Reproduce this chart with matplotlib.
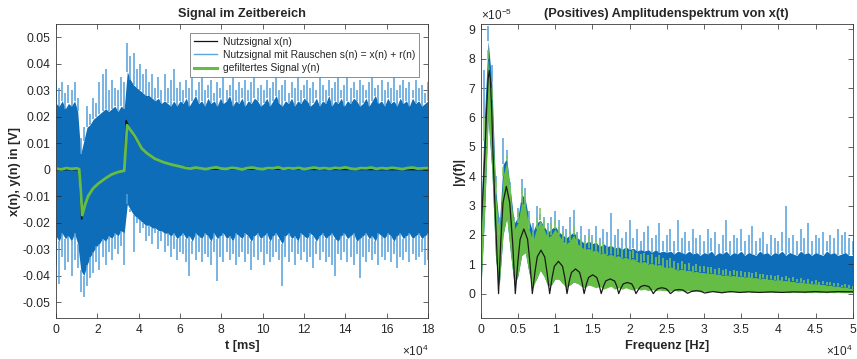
import numpy as np
import matplotlib
matplotlib.use("Agg")
import matplotlib.pyplot as plt
from matplotlib.lines import Line2D

plt.rcParams['font.family'] = ['Liberation Sans', 'DejaVu Sans']
plt.rcParams['mathtext.fontset'] = 'custom'
plt.rcParams['mathtext.rm'] = 'Liberation Sans'
plt.rcParams['mathtext.default'] = 'regular'

# ---- time domain (t in units of 1e4 ms) ----
t_noise = np.linspace(0, 18, 121)

# dense part of the noisy signal s(n)
noise_core_up = [
    .025, .024, .026, .023, .025, .024, .026, .022, .006, .011,
    .016, .017, .019, .020, .021, .022, .023, .022, .023, .024,
    .022, .024, .023, .037, .034, .032, .031, .030, .029, .028,
    .028, .027, .026, .027, .025, .026, .025, .024, .026, .024,
    .026, .025, .027, .024, .026, .028, .025, .026, .024, .027,
    .025, .026, .024, .027, .025, .026, .028, .024, .026, .025,
    .027, .024, .026, .025, .027, .026, .024, .025, .027, .024,
    .026, .028, .025, .024, .026, .025, .027, .024, .026, .025,
    .027, .026, .024, .025, .027, .024, .026, .025, .028, .024,
    .026, .025, .027, .024, .026, .025, .027, .026, .024, .025,
    .027, .024, .026, .028, .025, .026, .024, .027, .025, .026,
    .024, .027, .025, .026, .024, .027, .025, .026, .024, .025,
    .026]
noise_core_lo = [
    -.025, -.027, -.024, -.026, -.025, -.027, -.024, -.028, -.038, -.040,
    -.036, -.033, -.031, -.029, -.028, -.026, -.027, -.025, -.026, -.024,
    -.025, -.023, -.024, -.013, -.015, -.017, -.018, -.019, -.020, -.021,
    -.021, -.022, -.022, -.023, -.023, -.024, -.024, -.025, -.024, -.026,
    -.025, -.024, -.026, -.025, -.027, -.024, -.025, -.026, -.024, -.025,
    -.027, -.024, -.026, -.025, -.024, -.026, -.025, -.027, -.024, -.025,
    -.026, -.024, -.025, -.027, -.025, -.024, -.026, -.025, -.024, -.027,
    -.025, -.024, -.026, -.028, -.025, -.024, -.026, -.025, -.027, -.024,
    -.025, -.026, -.024, -.025, -.027, -.025, -.024, -.026, -.025, -.024,
    -.026, -.027, -.025, -.024, -.026, -.025, -.024, -.027, -.026, -.025,
    -.024, -.026, -.025, -.027, -.024, -.025, -.026, -.024, -.025, -.027,
    -.025, -.024, -.026, -.025, -.024, -.026, -.025, -.024, -.026, -.025,
    -.024]
# outlying peaks of s(n)
noise_peak_up = [
    .034, .031, .033, .029, .032, .030, .033, .027, .012, .016,
    .024, .021, .027, .025, .033, .036, .038, .030, .034, .031,
    .030, .035, .033, .048, .043, .044, .038, .040, .036, .038,
    .033, .036, .031, .035, .030, .036, .031, .034, .038, .031,
    .033, .030, .034, .031, .035, .030, .033, .036, .030, .032,
    .034, .029, .033, .031, .035, .030, .032, .036, .030, .033,
    .031, .034, .030, .033, .036, .031, .032, .030, .034, .031,
    .033, .035, .030, .032, .034, .029, .033, .031, .035, .030,
    .032, .034, .031, .033, .030, .035, .032, .030, .034, .031,
    .033, .036, .030, .032, .035, .031, .033, .030, .034, .032,
    .030, .033, .035, .031, .032, .034, .030, .033, .031, .035,
    .030, .032, .034, .031, .033, .030, .034, .031, .032, .029,
    .033]
noise_peak_lo = [
    -.036, -.043, -.033, -.038, -.035, -.040, -.034, -.037, -.046, -.048,
    -.044, -.041, -.039, -.035, -.038, -.033, -.036, -.031, -.034, -.030,
    -.032, -.029, -.036, -.009, -.016, -.031, -.020, -.024, -.022, -.027,
    -.025, -.028, -.024, -.030, -.027, -.031, -.029, -.033, -.030, -.034,
    -.031, -.032, -.035, -.040, -.032, -.034, -.031, -.035, -.032, -.033,
    -.036, -.031, -.042, -.033, -.035, -.031, -.034, -.032, -.036, -.033,
    -.031, -.035, -.032, -.038, -.033, -.034, -.031, -.036, -.032, -.035,
    -.033, -.031, -.034, -.044, -.033, -.035, -.031, -.036, -.032, -.034,
    -.031, -.035, -.033, -.037, -.032, -.034, -.031, -.035, -.033, -.036,
    -.040, -.032, -.034, -.031, -.035, -.033, -.036, -.032, -.041, -.033,
    -.035, -.031, -.034, -.032, -.036, -.033, -.034, -.031, -.035, -.032,
    -.037, -.033, -.034, -.031, -.035, -.032, -.034, -.033, -.031, -.036,
    -.034]

# useful signal x(n)
t_clean = [0, 1.11, 1.24, 1.4, 1.56, 1.8, 2.05, 2.4, 2.69, 3.0, 3.3, 3.39,
           3.55, 3.7, 3.9, 4.15, 4.4, 4.79, 5.2, 5.6, 6.1, 6.8, 7.5, 18]
x_clean = [0, 0, -.0187, -.0135, -.0100, -.0068, -.0050, -.0030, -.0018,
           -.0009, -.0004, .0186, .0158, .0134, .0108, .0078, .0060, .0040,
           .0027, .0018, .0011, .0005, .0002, 0]

# filtered signal y(n)
t_filt = [0, 0.25, 0.5, 0.75, 1.0, 1.12, 1.18, 1.27, 1.4, 1.56, 1.8, 2.05,
          2.4, 2.69, 3.0, 3.3, 3.36, 3.44, 3.6, 3.8, 4.15, 4.4, 4.79, 5.2,
          5.6] + list(np.arange(6.0, 18.01, 0.25))
y_filt = [.0004, .0001, .0006, .0003, .0005, .0002, -.006, -.0172, -.0134,
          -.0099, -.0070, -.0052, -.0032, -.0018, -.0009, -.0004, .007,
          .0168, .0150, .0128, .0080, .0062, .0041, .0028, .0019,
          .0012, .0007, .0004, .0008, .0005, .0002, .0006, .0009, .0004, .0003,
          .0007, .0005, .0001, .0006, .0008, .0004, .0002, .0006, .0005, .0009,
          .0003, .0006, .0004, .0007, .0002, .0005, .0008, .0004, .0006, .0003,
          .0007, .0005, .0009, .0004, .0002, .0006, .0005, .0008, .0003, .0006,
          .0004, .0007, .0005, .0002, .0006, .0008, .0004, .0005, .0006]

# ---- amplitude spectrum (f in 1e4 Hz, amplitude in 1e-5) ----
f_grid = np.linspace(0, 5, 101)

spec_noisy_up = [
    2.4, 6.0, 8.6, 7.2, 3.6, 2.3, 4.4, 4.6, 3.5, 2.4,
    2.6, 3.4, 3.2, 2.5, 2.1, 2.4, 2.5, 2.3, 2.1, 2.2,
    2.3, 2.1, 2.0, 1.9, 2.0, 2.1, 1.9, 1.8, 1.7, 1.8,
    1.7, 1.75, 1.6, 1.7, 1.6, 1.65, 1.55, 1.6, 1.5, 1.6,
    1.5, 1.55, 1.45, 1.5, 1.45, 1.5, 1.4, 1.5, 1.4, 1.45,
    1.4, 1.45, 1.35, 1.45, 1.4, 1.35, 1.45, 1.35, 1.4, 1.3,
    1.4, 1.35, 1.45, 1.3, 1.4, 1.35, 1.45, 1.3, 1.4, 1.35,
    1.45, 1.3, 1.4, 1.35, 1.3, 1.45, 1.35, 1.4, 1.3, 1.4,
    1.35, 1.45, 1.3, 1.4, 1.35, 1.3, 1.45, 1.35, 1.4, 1.3,
    1.4, 1.35, 1.3, 1.45, 1.35, 1.4, 1.3, 1.35, 1.4, 1.3,
    1.3]
spec_noisy_lo = [
    0.0, 2.6, 6.0, 4.2, 1.2, 0.3, 2.0, 2.6, 1.4, 0.3,
    0.6, 1.3, 1.4, 0.7, 0.3, 0.5, 0.8, 0.6, 0.3, 0.3,
    0.5, 0.5, 0.35, 0.3, 0.3, 0.4, 0.35, 0.3, 0.25, 0.3,
    0.3, 0.25, 0.3, 0.25, 0.3, 0.3, 0.25, 0.3, 0.25, 0.3,
    0.3, 0.25, 0.3, 0.35, 0.3, 0.25, 0.3, 0.3, 0.35, 0.25,
    0.3, 0.35, 0.3, 0.25, 0.3, 0.35, 0.3, 0.25, 0.3, 0.3,
    0.35, 0.3, 0.25, 0.3, 0.35, 0.3, 0.25, 0.3, 0.35, 0.3,
    0.25, 0.3, 0.35, 0.3, 0.25, 0.3, 0.3, 0.35, 0.25, 0.3,
    0.3, 0.25, 0.3, 0.25, 0.3, 0.2, 0.25, 0.3, 0.2, 0.25,
    0.2, 0.25, 0.2, 0.2, 0.15, 0.2, 0.15, 0.2, 0.15, 0.15,
    0.15]
spec_noisy_peak = [
    2.6, 7.6, 9.1, 7.8, 4.0, 2.6, 5.3, 4.9, 3.8, 2.6,
    2.9, 3.9, 3.6, 2.8, 2.4, 3.0, 2.7, 2.6, 2.4, 2.6,
    2.8, 2.5, 2.3, 2.2, 2.6, 2.85, 2.1, 2.3, 2.0, 2.2,
    2.0, 2.3, 1.9, 2.2, 2.1, 2.75, 2.0, 2.2, 1.9, 2.1,
    2.5, 1.9, 2.2, 1.8, 2.1, 2.3, 1.9, 2.0, 2.4, 1.8,
    2.0, 2.2, 1.8, 2.5, 1.9, 2.1, 1.8, 2.2, 1.9, 2.0,
    1.8, 2.2, 1.9, 2.1, 1.7, 2.0, 2.5, 1.8, 2.0, 1.9,
    2.2, 1.8, 2.0, 2.3, 1.8, 1.9, 2.1, 1.7, 2.0, 1.9,
    1.8, 2.1, 3.0, 1.9, 2.0, 1.8, 2.2, 1.9, 2.4, 1.8,
    2.0, 1.9, 2.1, 1.8, 2.0, 1.9, 2.2, 2.0, 2.1, 1.9,
    1.8]
spec_filt_up = [
    1.5, 5.2, 8.0, 6.6, 3.4, 2.0, 4.0, 4.5, 3.4, 2.2,
    2.4, 3.1, 3.0, 2.2, 1.8, 2.2, 2.5, 2.2, 1.9, 2.0,
    2.2, 2.0, 1.8, 1.7, 1.8, 2.0, 1.7, 1.6, 1.5, 1.55,
    1.45, 1.5, 1.35, 1.4, 1.3, 1.35, 1.25, 1.3, 1.2, 1.25,
    1.15, 1.2, 1.1, 1.05, 1.1, 1.0, 1.05, 0.95, 1.0, 0.92,
    0.88, 0.92, 0.85, 0.8, 0.84, 0.78, 0.8, 0.74, 0.76, 0.72,
    0.72, 0.68, 0.7, 0.65, 0.67, 0.62, 0.64, 0.6, 0.62, 0.58,
    0.6, 0.56, 0.58, 0.54, 0.55, 0.5, 0.53, 0.48, 0.5, 0.46,
    0.48, 0.44, 0.45, 0.41, 0.42, 0.38, 0.4, 0.36, 0.37, 0.33,
    0.34, 0.31, 0.32, 0.28, 0.29, 0.25, 0.26, 0.22, 0.23, 0.19,
    0.16]
spec_filt_lo = [
    0.0, 2.6, 6.0, 4.2, 1.2, 0.3, 2.0, 2.6, 1.4, 0.3,
    0.6, 1.3, 1.4, 0.7, 0.2, 0.5, 0.8, 0.6, 0.25, 0.3,
    0.5, 0.5, 0.35, 0.2, 0.3, 0.4, 0.35, 0.25, 0.2, 0.3,
    0.25, 0.2, 0.25, 0.15, 0.2, 0.25, 0.15, 0.2, 0.15, 0.2,
    0.15, 0.12, 0.18, 0.12, 0.15, 0.1, 0.14, 0.1, 0.12, 0.1,
    0.1, 0.08, 0.12, 0.08, 0.1, 0.07, 0.1, 0.07, 0.09, 0.06,
    0.08, 0.06, 0.09, 0.06, 0.07, 0.05, 0.08, 0.05, 0.07, 0.05,
    0.06, 0.05, 0.07, 0.04, 0.06, 0.05, 0.06, 0.04, 0.05, 0.04,
    0.05, 0.04, 0.05, 0.03, 0.05, 0.04, 0.05, 0.03, 0.04, 0.03,
    0.04, 0.03, 0.04, 0.03, 0.04, 0.03, 0.04, 0.03, 0.03, 0.03,
    0.03]
spec_filt_peak = [
    1.8, 6.0, 8.3, 7.0, 3.8, 2.4, 4.3, 4.7, 3.7, 2.5,
    2.8, 3.6, 3.4, 2.6, 2.1, 2.6, 2.9, 2.5, 2.2, 2.4,
    2.5, 2.3, 2.1, 2.0, 2.1, 2.3, 2.0, 1.9, 1.8, 1.95,
    1.8, 1.85, 1.7, 1.75, 1.6, 1.7, 1.55, 1.6, 1.5, 1.55,
    1.45, 1.5, 1.4, 1.35, 1.4, 1.3, 1.35, 1.25, 1.3, 1.2,
    1.15, 1.2, 1.1, 1.05, 1.1, 1.0, 1.05, 0.95, 1.0, 0.95,
    0.95, 0.9, 0.92, 0.85, 0.88, 0.82, 0.85, 0.78, 0.8, 0.76,
    0.78, 0.72, 0.75, 0.7, 0.72, 0.66, 0.68, 0.63, 0.65, 0.6,
    0.62, 0.57, 0.6, 0.54, 0.56, 0.5, 0.52, 0.47, 0.49, 0.44,
    0.45, 0.41, 0.42, 0.38, 0.39, 0.35, 0.36, 0.31, 0.32, 0.28,
    0.25]

# spectrum of the useful signal
f_clean = [0, 0.03, 0.055, 0.08, 0.10, 0.115, 0.13, 0.15, 0.165, 0.19, 0.21, 0.24,
           0.27, 0.30, 0.345, 0.39, 0.43, 0.465,
           0.50, 0.53, 0.58, 0.63, 0.66, 0.694,
           0.73, 0.76, 0.81, 0.86, 0.89, 0.927,
           0.96, 0.99, 1.045, 1.10, 1.13, 1.16,
           1.19, 1.22, 1.275, 1.33, 1.36, 1.39,
           1.42, 1.45, 1.505, 1.56, 1.59, 1.62,
           1.65, 1.68, 1.74, 1.80, 1.83, 1.855,
           1.885, 1.915, 1.97, 2.03, 2.06, 2.087,
           2.12, 2.15, 2.20, 2.26, 2.29, 2.32,
           2.35, 2.38, 2.435, 2.49, 2.52, 2.55,
           2.61, 2.665, 2.72, 2.78, 2.84, 2.9, 2.96, 3.01,
           3.12, 3.24, 3.36, 3.48, 3.6, 3.75, 3.9, 4.05, 4.2, 4.35,
           4.5, 4.65, 4.8, 5.0]
a_clean = [2.0, 3.4, 4.7, 6.3, 7.3, 7.6, 7.3, 6.1, 4.8, 3.1, 1.9, 0.0,
           1.8, 3.1, 3.65, 3.1, 1.7, 0.0,
           1.1, 1.85, 2.2, 1.85, 1.1, 0.0,
           0.75, 1.25, 1.48, 1.25, 0.75, 0.0,
           0.55, 0.93, 1.1, 0.93, 0.55, 0.0,
           0.42, 0.72, 0.84, 0.72, 0.42, 0.0,
           0.32, 0.55, 0.64, 0.55, 0.32, 0.0,
           0.25, 0.43, 0.5, 0.43, 0.25, 0.0,
           0.19, 0.33, 0.38, 0.33, 0.19, 0.0,
           0.14, 0.24, 0.28, 0.24, 0.14, 0.0,
           0.1, 0.17, 0.2, 0.17, 0.1, 0.0,
           0.12, 0.14, 0.12, 0.01, 0.08, 0.1, 0.08, 0.02,
           0.07, 0.03, 0.07, 0.04, 0.06, 0.04, 0.06, 0.04, 0.06, 0.05,
           0.07, 0.05, 0.07, 0.06]

BLUE_DARK = '#0d6db8'
BLUE_LIGHT = '#5ca5dd'
BLUE_SPIKE = '#529fdb'
GREEN = '#66bd45'
GREEN_SPIKE = '#7cc65a'
TXT = '#262626'


def style_axes(ax):
    ax.tick_params(direction='in', top=True, right=True, length=3.5,
                   width=0.5, labelsize=8.7, colors=TXT, pad=4)
    for s in ax.spines.values():
        s.set_linewidth(0.6)
        s.set_color('#3a3a3a')


fig = plt.figure(figsize=(8.57, 3.59), dpi=100)
ax1 = fig.add_axes([56 / 857, 41 / 359, 372 / 857, 294 / 359])
ax2 = fig.add_axes([480.7 / 857, 41 / 359, 372 / 857, 294 / 359])

# ---- left: time domain ----
# noise peaks as thin spikes, dense core drawn over them
ax1.vlines(t_noise, noise_core_up, noise_peak_up, color=BLUE_SPIKE, lw=1.1)
ax1.vlines(t_noise, noise_peak_lo, noise_core_lo, color=BLUE_SPIKE, lw=1.1)
ax1.fill_between(t_noise, noise_core_lo, noise_core_up, color=BLUE_DARK, lw=0)
ax1.plot(t_clean, x_clean, color='#111111', lw=1.0)
ax1.plot(t_filt, y_filt, color=GREEN, lw=2.0)
ax1.set_xlim(0, 18)
ax1.set_ylim(-0.056, 0.055)
ax1.set_xticks(np.arange(0, 19, 2))
ax1.set_yticks(np.round(np.arange(-0.05, 0.051, 0.01), 2))
ax1.set_yticklabels(['-0.05', '-0.04', '-0.03', '-0.02', '-0.01', '0',
                     '0.01', '0.02', '0.03', '0.04', '0.05'])
style_axes(ax1)
ax1.set_title('Signal im Zeitbereich', fontsize=9.2, fontweight='bold',
              color=TXT, pad=5)
ax1.set_xlabel('t [ms]', fontsize=9.2, fontweight='bold', color=TXT, labelpad=3)
ax1.set_ylabel('x(n), y(n) in [V]', fontsize=9.2, fontweight='bold',
               color=TXT, labelpad=1)
ax1.text(1.0, -0.088, r'$\times10^{4}$', transform=ax1.transAxes,
         ha='right', va='top', fontsize=8.5, color=TXT)

handles = [Line2D([], [], color='#111111', lw=0.9),
           Line2D([], [], color=BLUE_LIGHT, lw=1.0),
           Line2D([], [], color=GREEN, lw=2.2)]
labels = ['Nutzsignal x(n)', 'Nutzsignal mit Rauschen s(n) = x(n) + r(n)',
          'gefiltertes Signal y(n)']
leg = ax1.legend(handles, labels, loc='upper right', fontsize=7.35,
                 frameon=True, fancybox=False, framealpha=1,
                 edgecolor='#7a7a7a', borderaxespad=0.85, handlelength=2.2,
                 handletextpad=0.6, borderpad=0.4, labelspacing=0.32)
leg.get_frame().set_linewidth(0.6)
for txt in leg.get_texts():
    txt.set_color(TXT)

# ---- right: amplitude spectrum ----
ax2.vlines(f_grid, spec_noisy_up, spec_noisy_peak, color=BLUE_SPIKE, lw=1.1)
ax2.fill_between(f_grid, spec_noisy_lo, spec_noisy_up, color=BLUE_DARK, lw=0)
ax2.vlines(f_grid, spec_filt_up, spec_filt_peak, color=GREEN_SPIKE, lw=1.1)
ax2.fill_between(f_grid, spec_filt_lo, spec_filt_up, color=GREEN, lw=0)
ax2.plot(f_clean, a_clean, color='#1a1a1a', lw=0.9)
ax2.set_xlim(0, 5)
ax2.set_ylim(-0.83, 9.18)
ax2.set_xticks(np.arange(0, 5.01, 0.5))
ax2.set_xticklabels(['0', '0.5', '1', '1.5', '2', '2.5', '3', '3.5', '4',
                     '4.5', '5'])
ax2.set_yticks(np.arange(0, 10, 1))
style_axes(ax2)
ax2.set_title('(Positives) Amplitudenspektrum von x(t)', fontsize=9.2,
              fontweight='bold', color=TXT, pad=5)
ax2.set_xlabel('Frequenz [Hz]', fontsize=9.2, fontweight='bold', color=TXT,
               labelpad=3)
ax2.set_ylabel('|y(f)|', fontsize=9.2, fontweight='bold', color=TXT,
               labelpad=2)
ax2.text(1.0, -0.088, r'$\times10^{4}$', transform=ax2.transAxes,
         ha='right', va='top', fontsize=8.5, color=TXT)
ax2.text(0.0, 1.005, r'$\times10^{-5}$', transform=ax2.transAxes,
         ha='left', va='bottom', fontsize=8.5, color=TXT)

fig.savefig('out.png', dpi=100)
